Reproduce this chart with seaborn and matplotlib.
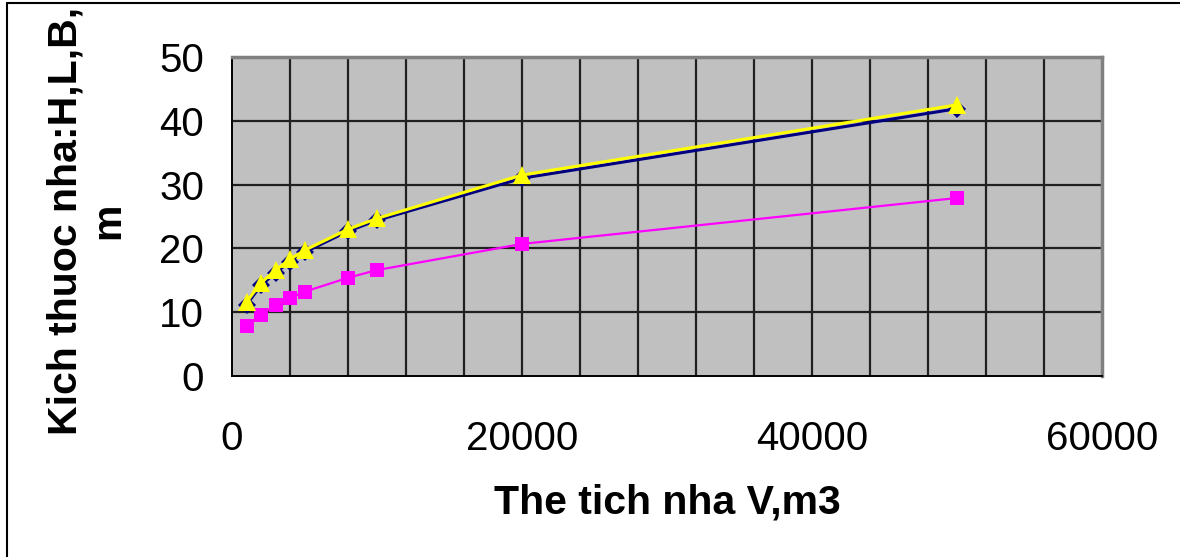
import numpy as np
import pandas as pd
import matplotlib
matplotlib.use("Agg")
import matplotlib.pyplot as plt
import seaborn as sns
from matplotlib.ticker import MultipleLocator

# Building volume (m3)
volume = [1000, 2000, 3000, 4000, 5000, 8000, 10000, 20000, 50000]
# Building dimensions (m) for each volume
size_navy = [11.2, 14.2, 16.2, 17.9, 19.4, 22.7, 24.4, 31.0, 41.9]
size_magenta = [7.8, 9.6, 11.2, 12.2, 13.2, 15.4, 16.6, 20.7, 27.9]
size_yellow = [11.6, 14.6, 16.6, 18.3, 19.7, 23.0, 24.7, 31.5, 42.5]

x_ticks = [0, 20000, 40000, 60000]
y_ticks = [0, 10, 20, 30, 40, 50]

sns.set_theme(style="white")
plt.rcParams["font.family"] = ["Liberation Sans", "DejaVu Sans"]
plt.rcParams.update({"text.color": "black", "axes.labelcolor": "black",
                     "xtick.color": "black", "ytick.color": "black"})

fig = plt.figure(figsize=(11.8, 5.57), dpi=100)
ax = fig.add_axes([232 / 1180, 1 - 376 / 557, 870 / 1180, 319 / 557])
ax.set_facecolor("#C0C0C0")

series = [
    (size_navy, "#000080", "D", 9.5, 2.2),
    (size_magenta, "#FF00FF", "s", 10.5, 1.6),
    (size_yellow, "#FFFF00", "^", 12.5, 2.2),
]
for vals, col, mk, ms, lw in series:
    df = pd.DataFrame({"V": volume, "S": vals})
    sns.lineplot(data=df, x="V", y="S", ax=ax, color=col, lw=lw,
                 marker=mk, markersize=ms, markeredgewidth=0,
                 markerfacecolor=col, zorder=3)

ax.set_xlim(0, 60000)
ax.set_ylim(0, 50)
ax.set_xticks(x_ticks)
ax.set_yticks(y_ticks)
ax.xaxis.set_minor_locator(MultipleLocator(4000))
ax.grid(False)
for gx in np.arange(4000, 60000, 4000):
    ax.axvline(gx, color="#202020", lw=1.6, zorder=1)
for gy in y_ticks[1:-1]:
    ax.axhline(gy, color="#202020", lw=1.6, zorder=1)

ax.tick_params(axis="both", which="major", direction="out", length=14,
               width=1.2, color="black", labelsize=29, pad=6)
ax.tick_params(axis="x", which="major", pad=18)
ax.tick_params(axis="x", which="minor", length=0)
ax.set_xticklabels([str(t) for t in x_ticks])
ax.set_yticklabels([str(t) for t in y_ticks])

for side in ["left", "bottom"]:
    ax.spines[side].set_color("black")
    ax.spines[side].set_linewidth(1.4)
for side in ["top", "right"]:
    ax.spines[side].set_color("#808080")
    ax.spines[side].set_linewidth(2.5)

ax.set_xlabel("The tich nha V,m3", fontsize=29.5, fontweight="bold")
ax.xaxis.set_label_coords(0.5, (376 - 484) / 319)
ax.set_ylabel("Kich thuoc nha:H,L,B,\nm", fontsize=29.5, fontweight="bold",
              linespacing=1.15)
ax.yaxis.set_label_coords((127 - 232) / 870, (376 - 221) / 319)

# Chart frame
fig.add_artist(plt.Line2D([7 / 1180, 7 / 1180], [0, 1 - 3 / 557],
                          transform=fig.transFigure, color="black", lw=1.5))
fig.add_artist(plt.Line2D([7 / 1180, 1], [1 - 3 / 557, 1 - 3 / 557],
                          transform=fig.transFigure, color="black", lw=1.5))

fig.savefig("out.png", dpi=100)
